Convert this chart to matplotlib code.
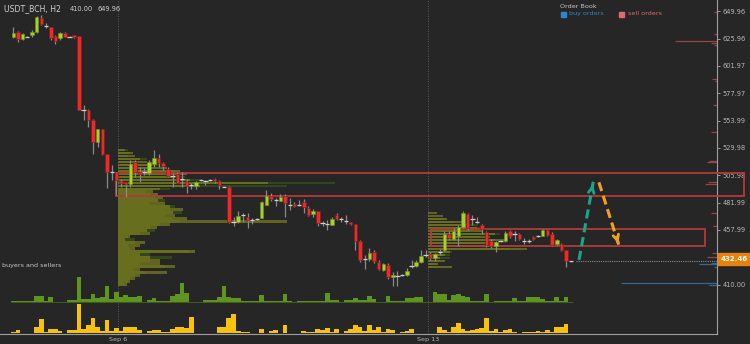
import numpy as np
import matplotlib
matplotlib.use('Agg')
import matplotlib.pyplot as plt
from matplotlib.patches import Rectangle
from matplotlib.transforms import blended_transform_factory

# ---- candles (H2) ----
opens = [627.5, 631.8, 625.2, 627.5, 629.0, 631.8, 643.6, 637.1, 635.7, 628.1,
         626.1, 631.0, 627.5, 629.0, 628.1, 563.3, 563.3, 554.5, 535.0, 546.6,
         524.7, 509.0, 507.8, 501.3, 499.9, 498.2, 517.5, 508.7, 509.2, 507.8,
         516.0, 521.5, 516.6, 511.6, 505.5, 507.2, 502.8, 501.3, 497.6, 496.7,
         501.7, 500.8, 502.0, 502.6, 500.8, 496.1, 496.1, 465.4, 465.2, 470.7,
         469.8, 466.9, 467.8, 468.9, 480.1, 487.9, 484.4, 483.8, 487.9, 480.1,
         480.9, 480.1, 482.9, 477.2, 472.2, 474.2, 464.0, 463.2, 462.5, 471.3,
         467.8, 466.0, 464.6, 463.2, 447.9, 432.5, 432.5, 438.3, 429.5, 422.5,
         427.5, 416.4, 417.9, 418.8, 418.8, 426.0, 426.0, 429.5, 436.3, 437.1,
         433.4, 438.3, 440.7, 454.4, 450.0, 452.9, 460.5, 472.2, 467.5, 464.6,
         462.5, 455.8, 448.5, 443.5, 447.9, 447.9, 456.7, 454.4, 454.4, 448.5,
         447.9, 451.8, 452.9, 452.9, 457.6, 454.7, 445.6, 445.6, 440.0, 430.5]
closes = [631.0, 625.4, 629.6, 627.5, 631.3, 644.5, 638.6, 637.1, 626.1, 624.0,
          631.0, 627.5, 627.5, 626.9, 563.3, 563.3, 554.5, 535.0, 546.6, 524.7,
          508.7, 509.0, 502.0, 499.6, 498.4, 516.0, 508.7, 507.2, 509.2, 517.5,
          521.5, 517.1, 514.2, 505.5, 505.5, 499.6, 502.8, 496.7, 497.6, 500.5,
          501.7, 500.8, 502.0, 501.3, 497.3, 496.1, 464.9, 465.4, 470.4, 470.7,
          466.9, 466.9, 467.8, 482.1, 487.9, 485.3, 484.4, 487.3, 481.5, 480.1,
          479.2, 480.1, 478.0, 471.3, 474.2, 464.0, 464.0, 463.2, 467.8, 467.5,
          467.8, 466.0, 463.2, 447.9, 431.9, 432.5, 437.8, 430.4, 423.7, 428.4,
          416.7, 418.8, 417.9, 418.8, 422.3, 426.0, 429.5, 434.8, 436.3, 433.6,
          437.1, 438.3, 454.4, 450.9, 456.7, 460.5, 473.3, 459.7, 467.5, 464.6,
          458.8, 445.0, 443.5, 447.0, 447.9, 455.3, 452.3, 454.4, 450.0, 448.5,
          447.9, 450.0, 452.9, 457.6, 453.8, 445.0, 449.4, 440.6, 430.5, 430.5]
highs = [635.7, 632.7, 630.5, 628.0, 633.3, 645.6, 646.5, 639.7, 636.2, 629.0,
         631.8, 631.8, 628.2, 629.5, 628.5, 567.6, 563.8, 555.0, 547.0, 547.0,
         525.0, 515.1, 508.5, 502.8, 500.5, 519.5, 519.5, 513.6, 512.5, 519.5,
         528.2, 524.5, 518.0, 513.6, 508.1, 509.2, 509.2, 502.6, 499.6, 501.3,
         502.5, 502.0, 502.8, 504.0, 502.0, 496.5, 496.5, 469.8, 474.2, 472.8,
         472.8, 468.4, 468.6, 483.0, 493.2, 490.8, 485.9, 489.7, 489.7, 485.9,
         482.9, 484.4, 485.1, 478.6, 476.3, 474.6, 466.3, 467.0, 469.3, 472.8,
         469.3, 471.3, 465.4, 463.6, 449.4, 436.3, 442.1, 440.0, 431.9, 429.0,
         429.0, 420.8, 421.6, 419.7, 424.6, 431.9, 431.9, 440.6, 440.0, 438.3,
         437.8, 441.3, 456.7, 456.7, 459.7, 462.5, 474.2, 472.8, 471.3, 469.8,
         463.4, 456.7, 450.0, 447.9, 448.8, 456.7, 458.2, 456.7, 455.3, 450.9,
         450.0, 452.6, 453.8, 458.8, 458.8, 455.8, 450.0, 446.5, 440.6, 431.0]
lows = [626.1, 623.1, 624.5, 627.0, 627.5, 631.0, 637.7, 634.8, 624.6, 620.8,
        624.6, 626.9, 627.0, 626.5, 563.0, 554.5, 548.4, 524.7, 531.1, 523.9,
        495.0, 502.0, 488.8, 496.1, 487.3, 496.1, 504.8, 500.5, 506.3, 506.3,
        513.6, 513.1, 510.7, 504.3, 495.6, 499.0, 495.6, 490.3, 493.8, 493.8,
        501.0, 497.6, 501.2, 499.6, 493.8, 495.7, 464.5, 461.9, 464.2, 465.4,
        459.6, 463.4, 466.5, 468.4, 480.1, 483.0, 478.6, 483.0, 469.3, 475.7,
        478.0, 478.6, 473.3, 470.4, 469.8, 461.1, 461.1, 458.2, 462.5, 466.9,
        465.4, 463.4, 462.5, 440.7, 429.5, 423.7, 430.4, 429.0, 423.1, 421.6,
        415.0, 409.1, 409.1, 417.9, 417.3, 424.6, 425.5, 429.0, 434.3, 431.9,
        430.4, 436.3, 439.4, 449.4, 449.4, 443.5, 459.7, 458.2, 462.5, 464.0,
        454.7, 443.0, 442.1, 438.3, 447.0, 447.0, 450.9, 447.9, 448.8, 445.9,
        446.5, 449.4, 452.0, 452.3, 452.3, 443.5, 445.0, 439.2, 425.5, 430.0]

# ---- volume histograms (buyers / sellers) ----
buy_vol = [1, 1, 1.7, 1.7, 1.7, 6.3, 6.3, 1.7, 5.7, 0.7,
           0.7, 0, 2.3, 2.3, 25.7, 3, 3, 8.3, 4, 5,
           16.3, 3, 10.7, 5.7, 7, 5.7, 5.7, 6.7, 0, 2.3,
           4.7, 1.7, 1.7, 1.7, 6.3, 8.3, 19.7, 9.7, 0.7, 0.7,
           0, 2.3, 2.3, 2.3, 5.7, 16.3, 5.7, 4, 4, 1.3,
           1.3, 1.3, 1.3, 7.3, 1.7, 1.7, 1.7, 1.7, 8.3, 1.3,
           0, 1, 1, 1, 1, 1, 1, 9, 2.3, 2.3,
           0, 2.3, 2.3, 4.7, 2.3, 2.3, 6.3, 3, 0.7, 0.7,
           6.3, 1.3, 1.3, 1.3, 4, 4, 5.7, 5.7, 0.7, 0.7,
           10, 8, 8, 2.3, 7.3, 8.3, 6.3, 5, 1.7, 1.7,
           1.7, 8, 0.7, 1.7, 1.7, 1.7, 1.7, 4, 1.3, 1.3,
           5.7, 5, 5, 3, 1.3, 1.3, 5, 1.3, 5, 0.7]
sell_vol = [1.7, 3.3, 0.5, 0.7, 0.7, 6, 14.3, 1.7, 4, 4,
            2.3, 0, 3.3, 3.3, 29, 4, 8.3, 15, 6, 2.3,
            13.3, 2.3, 5, 2.3, 6, 6, 6, 3.3, 0, 2.3,
            3.3, 3.3, 1.7, 1.7, 4, 6, 6, 5, 16, 0.7,
            0, 0.7, 0.7, 0.7, 6, 6, 15.7, 19.3, 2.7, 1.7,
            1.7, 0.7, 0.7, 4, 0.7, 2.7, 3.3, 0.7, 8.3, 0.7,
            0.7, 0, 2.3, 1.3, 1.3, 4, 3.3, 5.7, 1.7, 4,
            0, 2.3, 4, 8.3, 6, 2.7, 8.3, 3.3, 6, 1.7,
            4, 3.3, 0.7, 1.3, 2.7, 4, 0, 0.7, 0.7, 0.7,
            0.7, 6, 3.3, 1.3, 6, 10, 4, 2.7, 3.3, 4,
            5, 15, 2.3, 4, 1.7, 3.3, 4, 1.7, 0.7, 1.3,
            1.3, 1.7, 2.7, 1.7, 3.3, 1.7, 6.7, 6, 9.3, 0]

# ---- volume profiles (price level -> volume) ----
prof1_top, prof1_step = 528.2, 2.63
prof1_olive = [7, 15, 17, 22, 29, 34, 49, 62, 69, 57,
               72, 150, 82, 42, 35, 40, 45, 40, 47, 52,
               65, 55, 57, 69, 169, 52, 39, 29, 32, 12,
               7, 27, 22, 17, 77, 22, 32, 42, 42, 57,
               22, 49, 22, 17, 12, 9]
prof1_dark = [10, 12, 10, 29, 17, 42, 32, 57, 47, 67,
              82, 217, 169, 52, 27, 32, 37, 47, 32, 57,
              52, 64, 47, 54, 62, 42, 32, 37, 22, 10,
              17, 17, 10, 12, 72, 32, 54, 32, 22, 47,
              15, 27, 17, 12, 10, 7]
prof2_top, prof2_step = 472.9, 2.63
prof2_olive = [9, 15, 19, 34, 42, 49, 55, 67, 62, 79, 57, 72, 99, 22, 17, 12, 17, 10, 24]
prof2_dark = [0, 0, 17, 27, 50, 55, 42, 72, 52, 67, 67, 62, 82, 24, 22, 22, 12, 7, 12]

# ---- order book ----
sell_px = [649.3, 630.0, 624.1, 622.1, 620.3, 590.7, 588.7, 567.9, 544.2,
           518.8, 517.4, 500.4, 498.4, 472.7, 461.5, 438.1, 434.6]
sell_sz = [3, 3, 42, 6, 3, 5, 2, 4, 6, 8, 10, 9, 12, 6, 4, 5, 10]
buy_px = [429.3, 428.2, 425.3, 411.2, 409.7]
buy_sz = [6, 18, 3, 96, 8]

# ---- zones / projection / axis ----
zone_hi = (487.9, 507.8)
zone_lo = (443.5, 458.8)
up_path = ([120.75, 123.8], [431.7, 500.4])
down_path = ([125.0, 129.3], [499.8, 444.0])
last_price = 432.46
price_ticks = [410.00, 457.99, 481.99, 505.98, 529.98, 553.99, 577.97, 601.97, 625.96, 649.96]
date_pos = [22.35, 88.5]
date_lbl = ['Sep 6', 'Sep 13']

BG = '#262626'
GREEN = '#a8d12c'
RED = '#ec2a2a'
TXT = '#b8b8b8'

fig = plt.figure(figsize=(7.5, 3.44), dpi=100, facecolor=BG)
ax = fig.add_axes([0, 10/344, 717/750, 334/344], facecolor=BG)
XMIN, XMAX = -2.84, 150.2
ax.set_xlim(XMIN, XMAX)
ax.set_ylim(366.7, 659.8)

px = 4.685  # pixels per candle step, used for profile / order book lengths

# volume profiles
lev1 = prof1_top - prof1_step*np.arange(len(prof1_olive))
ax.barh(lev1, np.array(prof1_dark)/px, left=date_pos[0], height=prof1_step*0.95,
        color='#364a1a', alpha=0.9, zorder=1, linewidth=0)
ax.barh(lev1, np.array(prof1_olive)/px, left=date_pos[0], height=prof1_step*0.95,
        color='#88881f', alpha=0.62, zorder=1, linewidth=0)
lev2 = prof2_top - prof2_step*np.arange(len(prof2_olive))
ax.barh(lev2, np.array(prof2_dark)/px, left=date_pos[1], height=prof2_step*0.95,
        color='#364a1a', alpha=0.9, zorder=1, linewidth=0)
ax.barh(lev2, np.array(prof2_olive)/px, left=date_pos[1], height=prof2_step*0.95,
        color='#88881f', alpha=0.62, zorder=1, linewidth=0)

# date separators
for d in date_pos:
    ax.axvline(d, color='#6a6a6a', lw=0.6, ls=(0, (1, 2)), zorder=0.5)

# zones
ax.add_patch(Rectangle((21.86, zone_hi[0]), 155.97-21.86, zone_hi[1]-zone_hi[0],
                       fill=False, ec='#b23a3a', lw=1.3, zorder=3, clip_on=False))
ax.add_patch(Rectangle((89.16, zone_lo[0]), 147.6-89.16, zone_lo[1]-zone_lo[0],
                       fill=False, ec='#b23a3a', lw=1.3, zorder=3))

# candles
idx = np.arange(len(opens))
o = np.array(opens); c = np.array(closes)
ax.vlines(idx, lows, highs, color='#8a8a8a', lw=0.9, zorder=4)
up = c > o + 0.3
dn = c < o - 0.3
dj = ~(up | dn)
ax.bar(idx[up], (c - o)[up], bottom=o[up], width=0.74, color=GREEN,
       edgecolor='#6f8f1c', linewidth=0.4, zorder=5)
ax.bar(idx[dn], (o - c)[dn], bottom=c[dn], width=0.74, color=RED,
       edgecolor='#7a1c1c', linewidth=0.4, zorder=5)
ax.hlines(o[dj], idx[dj]-0.45, idx[dj]+0.45, color='#d0d0d0', lw=0.9, zorder=5)

# current price line
ax.plot([idx[-1] + 1, XMAX], [closes[-1], closes[-1]], color='#8a8a8a',
        lw=0.8, ls=(0, (1, 1)), zorder=3)

# order book
ax.hlines(sell_px, XMAX - np.array(sell_sz)/px, XMAX, color='#9a4444', lw=0.9, zorder=2)
ax.hlines(buy_px, XMAX - np.array(buy_sz)/px, XMAX, color='#336a94', lw=0.9, zorder=2)

# projection arrows
ax.plot(*up_path, color='#19a58a', lw=2.2, ls=(0, (3, 1.6)), zorder=6)
ax.annotate('', xy=(up_path[0][1], up_path[1][1]), xytext=(up_path[0][1]-0.25, up_path[1][1]-5.5),
            arrowprops=dict(arrowstyle='->', color='#19a58a', lw=2.0), zorder=6)
ax.plot(*down_path, color='#f0a21e', lw=2.2, ls=(0, (3, 1.6)), zorder=6)
ax.annotate('', xy=(down_path[0][1], down_path[1][1]), xytext=(down_path[0][1]-0.4, down_path[1][1]+5.5),
            arrowprops=dict(arrowstyle='->', color='#f0a21e', lw=2.0), zorder=6)

# axes styling
for s in ['left', 'top']:
    ax.spines[s].set_visible(False)
for s in ['right', 'bottom']:
    ax.spines[s].set_color('#a0a0a0')
    ax.spines[s].set_linewidth(0.8)
ax.yaxis.tick_right()
ax.set_yticks(price_ticks)
ax.set_yticklabels([f'{v:.2f}' for v in price_ticks])
ax.tick_params(axis='y', colors='#9a9a9a', labelcolor=TXT, labelsize=4.8,
               length=2.5, width=0.7, pad=1.5)
ax.set_xticks(date_pos)
ax.set_xticklabels(date_lbl)
ax.tick_params(axis='x', labelcolor=TXT, labelsize=4.6, length=0, pad=2.5)

# last price label
tr = blended_transform_factory(ax.transAxes, ax.transData)
ax.add_patch(Rectangle((1.0015, last_price - 5.0), 0.046, 10.0, transform=tr,
                       color='#e8820e', clip_on=False, zorder=7))
ax.text(1.024, last_price, f'{last_price:.2f}', transform=tr, ha='center', va='center',
        color='white', fontsize=5.0, fontweight='bold', zorder=8, clip_on=False)

# volume panel
axv = fig.add_axes([0, 10/344, 717/750, 64/344])
axv.set_xlim(XMIN, XMAX)
axv.set_ylim(0, 64)
axv.patch.set_alpha(0)
axv.axis('off')
axv.bar(idx, sell_vol, bottom=0.7, width=1.0, color='#f6c20c', linewidth=0)
axv.bar(idx, buy_vol, bottom=31.7, width=1.0, color='#5e9520', linewidth=0)
axv.hlines(31.7, idx[0]-0.5, idx[-1]+0.5, color='#3c5c18', lw=0.8)

# texts
fig.text(4/750, 1 - 9/344, 'USDT_BCH, H2', color='#d0d0d0', fontsize=5.6, va='center')
fig.text(70/750, 1 - 9/344, '410.00', color='#d0d0d0', fontsize=4.8, va='center')
fig.text(97/750, 1 - 9/344, '649.96', color='#d0d0d0', fontsize=4.8, va='center')
fig.text(2/750, 1 - 266/344, 'buyers and sellers', color='#c8c8c8', fontsize=4.6, va='center')
fig.text(560/750, 1 - 6/344, 'Order Book', color='#c8c8c8', fontsize=4.6, va='center')
fig.patches.append(Rectangle((561/750, 1 - 17/344), 5/750, 5/344, transform=fig.transFigure,
                             color='#2f86c8', figure=fig))
fig.text(569/750, 1 - 13.5/344, 'buy orders', color='#2f86c8', fontsize=4.6, va='center')
fig.patches.append(Rectangle((619/750, 1 - 17/344), 5/750, 5/344, transform=fig.transFigure,
                             color='#e06a6a', figure=fig))
fig.text(628/750, 1 - 13.5/344, 'sell orders', color='#e06a6a', fontsize=4.6, va='center')

fig.savefig('out.png', dpi=100, facecolor=BG)
